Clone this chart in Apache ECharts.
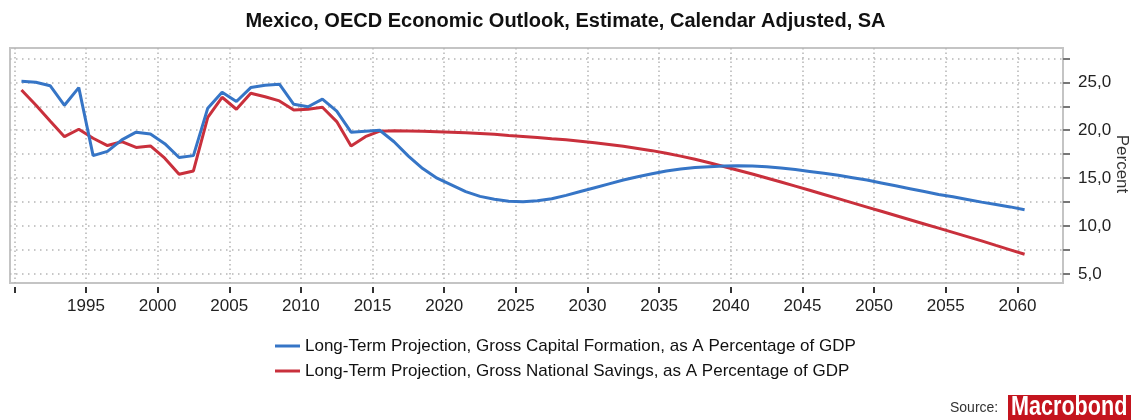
<!DOCTYPE html>
<html>
<head>
<meta charset="utf-8">
<script src="https://cdn.jsdelivr.net/npm/echarts@6/dist/echarts.min.js"></script>
<style>
html,body{margin:0;padding:0;background:#fff;}
#chart{width:1131px;height:420px;}
</style>
</head>
<body>
<div id="chart"></div>
<script>
const years = [1990,1991,1992,1993,1994,1995,1996,1997,1998,1999,2000,2001,2002,2003,2004,2005,2006,2007,2008,2009,
  2010,2011,2012,2013,2014,2015,2016,2017,2018,2019,2020,2021,2022,2023,2024,2025,2026,2027,2028,2029,
  2030,2031,2032,2033,2034,2035,2036,2037,2038,2039,2040,2041,2042,2043,2044,2045,2046,2047,2048,2049,
  2050,2051,2052,2053,2054,2055,2056,2057,2058,2059,2060];

const capitalFormation = [25.1,25.0,24.65,22.6,24.45,17.35,17.8,19.0,19.8,19.6,
  18.6,17.15,17.35,22.3,23.97,23.0,24.45,24.7,24.8,22.7,
  22.45,23.25,22.0,19.8,19.9,20.0,18.8,17.3,16.0,15.0,
  14.3,13.6,13.1,12.8,12.6,12.55,12.65,12.85,13.2,13.6,
  14.0,14.4,14.8,15.15,15.45,15.75,15.95,16.1,16.2,16.28,
  16.3,16.27,16.2,16.05,15.9,15.7,15.5,15.3,15.05,14.8,
  14.5,14.2,13.9,13.6,13.3,13.05,12.78,12.5,12.25,12.0,11.7];

const nationalSavings = [24.2,22.64,20.97,19.33,20.1,19.16,18.4,18.8,18.2,18.36,
  17.08,15.4,15.75,21.35,23.44,22.19,23.86,23.5,23.06,22.1,
  22.2,22.4,20.9,18.36,19.33,19.9,19.95,19.93,19.9,19.85,
  19.8,19.73,19.66,19.58,19.45,19.35,19.25,19.12,19.0,18.85,
  18.7,18.52,18.32,18.1,17.87,17.6,17.3,16.97,16.6,16.22,
  15.83,15.43,15.02,14.6,14.17,13.74,13.3,12.86,12.42,11.98,
  11.54,11.1,10.66,10.22,9.78,9.34,8.9,8.46,7.98,7.52,7.06];

const xTickYears = [1990,1995,2000,2005,2010,2015,2020,2025,2030,2035,2040,2045,2050,2055,2060];
const xLabelYears = [1995,2000,2005,2010,2015,2020,2025,2030,2035,2040,2045,2050,2055,2060];
const yTicks = [5,7.5,10,12.5,15,17.5,20,22.5,25,27.5];
const yLabels = [5,10,15,20,25];

const title = 'Mexico, OECD Economic Outlook, Estimate, Calendar Adjusted, SA';
const yAxisName = 'Percent';
const seriesNames = ['Long-Term Projection, Gross Capital Formation, as A Percentage of GDP',
                     'Long-Term Projection, Gross National Savings, as A Percentage of GDP'];

const FONT = '"Liberation Sans", Arial, sans-serif';

function pairs(vals){ return years.map((y,i)=>[y+0.5, vals[i]]); }

const chart = echarts.init(document.getElementById('chart'), null, {renderer:'canvas'});
chart.setOption({
  animation:false,
  backgroundColor:'#fff',
  title:{
    text:title, left:'center', top:6,
    textStyle:{fontFamily:FONT, fontSize:20, fontWeight:'bold', color:'#111'}
  },
  grid:{left:10, right:68, top:48, bottom:137, show:true, outerBoundsMode:'none', containLabel:false,
    borderColor:'#c4c4c4', borderWidth:2, backgroundColor:'#fff'},
  legend:{
    orient:'vertical', left:270, top:331, itemGap:5,
    itemWidth:25, itemHeight:3, icon:'rect',
    textStyle:{fontFamily:FONT, fontSize:17, color:'#111', lineHeight:20},
    data:seriesNames
  },
  xAxis:{
    type:'value', min:1989.7, max:2063.18,
    offset:4,
    axisLine:{show:false},
    axisTick:{show:true, length:6, customValues:xTickYears, lineStyle:{color:'#333', width:2}},
    axisLabel:{customValues:xLabelYears, margin:11, fontFamily:FONT, fontSize:17, color:'#222',
      formatter:v=>String(Math.round(v))},
    splitLine:{show:true, lineStyle:{color:'#b5b5b5', width:1.5, type:[1.5,3]}}
  },
  yAxis:{
    type:'value', position:'right', min:4.06, max:28.58,
    axisLine:{show:false},
    axisTick:{show:true, length:7, customValues:yTicks, lineStyle:{color:'#777', width:2}},
    axisLabel:{customValues:yLabels, margin:15, fontFamily:FONT, fontSize:17, color:'#222',
      formatter:v=>v.toFixed(1).replace('.', ',')},
    splitLine:{show:true, lineStyle:{color:'#b5b5b5', width:1.5, type:[1.5,4.5]}}
  },
  series:[
    {name:seriesNames[0], type:'line', data:pairs(capitalFormation), showSymbol:false, z:3,
      lineStyle:{color:'#3675c6', width:3}, itemStyle:{color:'#3675c6'}},
    {name:seriesNames[1], type:'line', data:pairs(nationalSavings), showSymbol:false, z:2,
      lineStyle:{color:'#c9303c', width:3}, itemStyle:{color:'#c9303c'}}
  ],
  graphic:[
    {type:'text', x:1122, y:164, rotation:-Math.PI/2,
      style:{text:yAxisName, font:'17px '+FONT, fill:'#333', align:'center', verticalAlign:'middle'}},
    {type:'text', left:950, top:401, style:{text:'Source:', font:'14px '+FONT, fill:'#333'}},
    {type:'rect', left:1008, top:395, shape:{width:123, height:25}, style:{fill:'#c4141e'}},
    {type:'text', x:1011, y:394, scaleX:0.8, style:{text:'Macrobond', font:'bold 27px '+FONT, fill:'#fff'}}
  ]
});
</script>
</body>
</html>
